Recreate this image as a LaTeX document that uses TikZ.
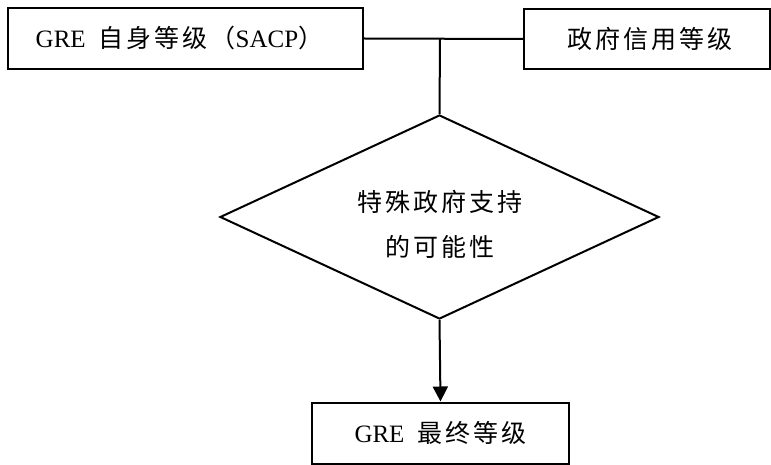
\documentclass[tikz,border=0pt]{standalone}
\usepackage{fontspec}
\setmainfont{Liberation Serif}
\newfontfamily\cjk[LetterSpace=12,Scale=1.0]{Noto Sans CJK SC}
\usetikzlibrary{shapes.geometric,arrows.meta}
\newcommand{\dropline}[1]{\raisebox{-7pt}[\height][\depth]{#1}}
\begin{document}
\begin{tikzpicture}[x=1pt,y=-1pt,
  every node/.style={font=\fontsize{25}{45}\selectfont},
  box/.style={draw,line width=2pt,inner sep=0pt},
  decision/.style={draw,line width=2pt,diamond,shape aspect=2.15,inner sep=0pt,
    minimum width=439pt,minimum height=204pt,align=center},
  link/.style={line width=2pt},
  flow/.style={line width=2pt,-{Triangle[length=15pt,width=15pt]}}]
\useasboundingbox (0,0) rectangle (771,465);
% input ratings
\node[box,minimum width=355pt,minimum height=61pt] (own) at (185.5,38.5)
  {GRE\hspace{13pt}{\cjk 自身等级（}SACP{\cjk ）}\hspace*{12pt}};
\node[box,minimum width=246pt,minimum height=60pt] (gov) at (647,39)
  {\hspace*{6pt}{\cjk 政府信用等级}};
% support assessment
\node[decision] (sup) at (439.5,217)
  {\dropline{\cjk 特殊政府支持}\\\dropline{\cjk 的可能性}};
% final rating
\node[box,minimum width=257pt,minimum height=61pt] (fin) at (440.5,433)
  {GRE\hspace{13pt}{\cjk 最终等级}};
\coordinate (join) at (440,39);
\draw[link] (own.east) -- (gov.west);
\draw[link] (join) -- (sup.north);
\draw[flow] (sup.south) -- (fin.north);
\end{tikzpicture}
\end{document}
